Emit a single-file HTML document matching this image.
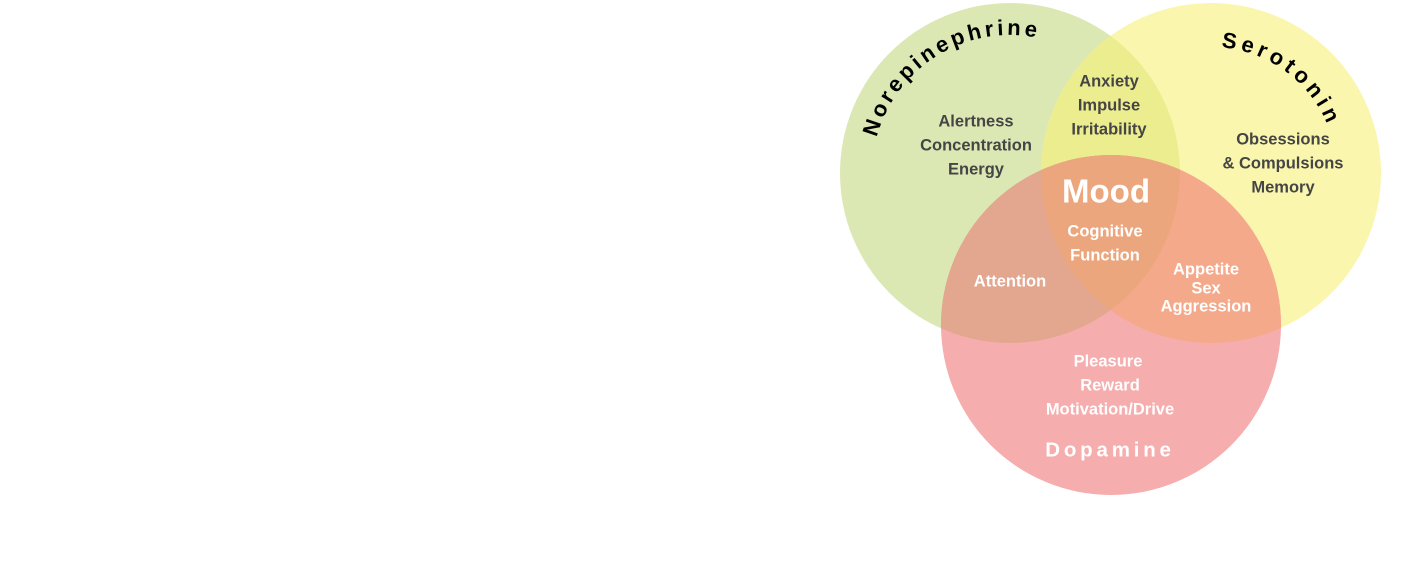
<!DOCTYPE html>
<html><head><meta charset="utf-8"><style>
html,body{margin:0;padding:0;background:#fff;width:1413px;height:565px;overflow:hidden}
svg{display:block}
text{font-family:"Liberation Sans",sans-serif;font-weight:bold;text-anchor:middle;dominant-baseline:middle}
.d{fill:#454545;font-size:16.5px}
.w{fill:#fff;font-size:16.5px}
</style></head><body>
<svg width="1413" height="565" viewBox="0 0 1413 565">
<defs>
<clipPath id="cg"><circle cx="1010" cy="173" r="170"/></clipPath>
<clipPath id="cy"><circle cx="1211" cy="173" r="170"/></clipPath>
<path id="pn" d="M 872,173 A 138 138 0 0 1 1148,173"/>
<path id="ps" d="M 1085,173 A 126 126 0 0 1 1337,173"/>
</defs>
<circle cx="1010" cy="173" r="170" fill="#dbe8b4"/>
<circle cx="1211" cy="173" r="170" fill="#faf6ae"/>
<circle cx="1111" cy="325" r="170" fill="#f5adad"/>
<g clip-path="url(#cg)"><circle cx="1211" cy="173" r="170" fill="#ebed8f"/>
<circle cx="1111" cy="325" r="170" fill="#e3a68f"/></g>
<g clip-path="url(#cy)"><circle cx="1111" cy="325" r="170" fill="#f5a98b"/></g>
<g clip-path="url(#cg)"><g clip-path="url(#cy)"><circle cx="1111" cy="325" r="170" fill="#eca67d"/></g></g>

<text style="font-size:22px;fill:#000;dominant-baseline:auto;text-anchor:start;letter-spacing:3.4px"><textPath href="#pn" startOffset="36">Norepinephrine</textPath></text>
<text style="font-size:22px;fill:#000;dominant-baseline:auto;text-anchor:start;letter-spacing:4.3px"><textPath href="#ps" startOffset="208">Serotonin</textPath></text>

<text class="d" x="976" y="122">Alertness</text>
<text class="d" x="976" y="146">Concentration</text>
<text class="d" x="976" y="170">Energy</text>
<text class="d" x="1109" y="82">Anxiety</text>
<text class="d" x="1109" y="106">Impulse</text>
<text class="d" x="1109" y="130">Irritability</text>
<text class="d" x="1283" y="140">Obsessions</text>
<text class="d" x="1283" y="164">&amp; Compulsions</text>
<text class="d" x="1283" y="188">Memory</text>
<text class="w" x="1106" y="194" style="font-size:33px">Mood</text>
<text class="w" x="1105" y="232">Cognitive</text>
<text class="w" x="1105" y="256">Function</text>
<text class="w" x="1010" y="282">Attention</text>
<text class="w" x="1206" y="270">Appetite</text>
<text class="w" x="1206" y="289">Sex</text>
<text class="w" x="1206" y="307">Aggression</text>
<text class="w" x="1108" y="362">Pleasure</text>
<text class="w" x="1110" y="386">Reward</text>
<text class="w" x="1110" y="410">Motivation/Drive</text>
<text class="w" x="1110" y="451" style="font-size:20.5px;letter-spacing:3.8px">Dopamine</text>
</svg>
</body></html>
